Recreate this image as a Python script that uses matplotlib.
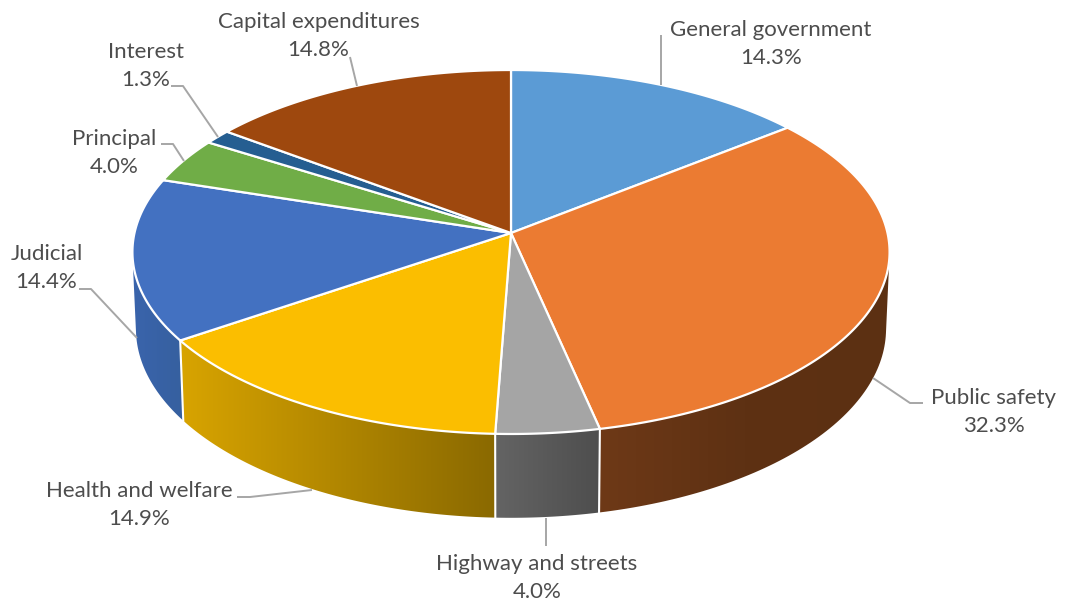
import matplotlib
matplotlib.use("Agg")
import matplotlib.pyplot as plt
from matplotlib.colors import LinearSegmentedColormap
from matplotlib.patches import Polygon
import numpy as np

plt.rcParams['font.family'] = ['Lato', 'DejaVu Sans']

categories = ["General government", "Public safety", "Highway and streets",
              "Health and welfare", "Judicial", "Principal", "Interest",
              "Capital expenditures"]
shares = [14.3, 32.3, 4.0, 14.9, 14.4, 4.0, 1.3, 14.8]
top_colors = ["#5B9BD5", "#EB7B32", "#A5A5A5", "#FBBE00", "#4371C1", "#70AD47",
              "#255E91", "#9E480E"]
# left / right colour of the rim, only the front slices show one
rim_colors = {1: ["#6E3917", "#5E3113", "#5C3012"],
              2: ["#646464", "#4E4E4E"],
              3: ["#D8A400", "#8A6900"],
              4: ["#3A64AC", "#36609F"]}
label_centers = [(771, 44), (993.5, 412), (537, 578), (139, 505), (46.5, 268),
                 (114.5, 153), (145.5, 66), (318.5, 36)]
leaders = [[(661, 35), (661, 85)],
           [(873, 378), (910, 403), (923, 403)],
           [(546, 518), (546, 546)],
           [(237, 497), (250, 497), (312, 490)],
           [(79, 289), (91, 289), (137, 338)],
           [(161, 144), (173, 144), (184, 161)],
           [(171, 86), (183, 86), (218, 137)],
           [(350, 57), (357, 86)]]

CX, CY = 511, 233
TILT = 0.1044


def project(deg, sx=376.5, sy=180.0, cy=CY):
    # clockwise from twelve o'clock, with perspective towards the back
    t = np.radians(deg)
    x, y = np.sin(t), np.cos(t)
    d = 1 + TILT * y
    return np.column_stack([CX + sx * x / d, cy - sy * y / d])


def bottom(deg):
    return project(deg, sx=373.0, sy=187.0, cy=309)


def hull(pts):
    # monotone chain, closes the rim along the cylinder's silhouette
    pts = sorted(map(tuple, pts))
    out = []
    for seq in (pts, pts[::-1]):
        start = len(out)
        for p in seq:
            while len(out) - start >= 2:
                a, b = out[-2], out[-1]
                if (b[0] - a[0]) * (p[1] - a[1]) - (b[1] - a[1]) * (p[0] - a[0]) > 0:
                    break
                out.pop()
            out.append(p)
        out.pop()
    return np.array(out)


edges = np.concatenate([[0], np.cumsum(shares)]) / sum(shares) * 360

fig = plt.figure(figsize=(10.66, 6.02), dpi=100)
ax = fig.add_axes([0, 0, 1, 1])
ax.set_xlim(0, 1066)
ax.set_ylim(602, 0)
ax.axis('off')

# rim first, the top surface covers whatever is behind it
for i, cols in rim_colors.items():
    arc = np.linspace(edges[i], edges[i + 1], 120)
    pts = hull(np.vstack([project(arc), bottom(arc)]))
    poly = Polygon(pts, closed=True, facecolor='none', edgecolor='none')
    ax.add_patch(poly)
    cmap = LinearSegmentedColormap.from_list("rim%d" % i, cols)
    x0, x1 = pts[:, 0].min(), pts[:, 0].max()
    y0, y1 = pts[:, 1].min(), pts[:, 1].max()
    img = ax.imshow(np.linspace(0, 1, 256)[None, :], cmap=cmap, aspect='auto',
                    extent=(x0, x1, y1, y0), zorder=2)
    img.set_clip_path(poly)
    ax.plot(*np.vstack([project(arc[:1]), bottom(arc[:1])]).T, color='white', lw=1.5, zorder=3)

ax.set_xlim(0, 1066)
ax.set_ylim(602, 0)

for i, col in enumerate(top_colors):
    arc = np.linspace(edges[i], edges[i + 1], 200)
    pts = np.vstack([[[CX, CY]], project(arc)])
    ax.add_patch(Polygon(pts, closed=True, facecolor=col, edgecolor='white',
                         lw=1.6, joinstyle='round', zorder=4))

for path in leaders:
    xs, ys = zip(*path)
    ax.plot(xs, ys, color='#A6A6A6', lw=1.4, zorder=5, solid_capstyle='butt')

for name, val, (x, y) in zip(categories, shares, label_centers):
    ax.text(x, y, "%s\n%.1f%%" % (name, val), ha='center', va='center',
            fontsize=16, color='#4D4D4D', linespacing=1.5, zorder=6)

fig.savefig("out.png", dpi=100)
